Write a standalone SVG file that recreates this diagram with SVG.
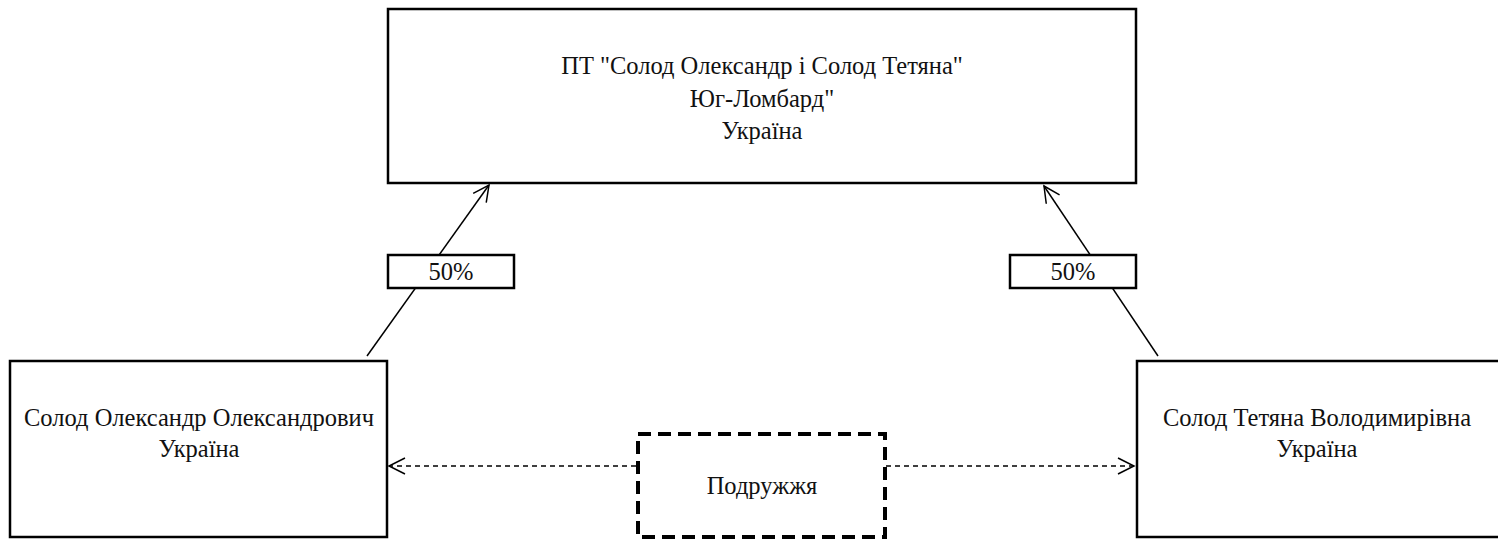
<svg xmlns="http://www.w3.org/2000/svg" width="1498" height="539" viewBox="0 0 1498 539">
<defs>
<style>
.box{fill:#fff;stroke:#000;stroke-width:2.5}
.dbox{fill:#fff;stroke:#000;stroke-width:4;stroke-dasharray:13 7}
.t{font-family:"Liberation Serif","Times New Roman",serif;font-size:24.5px;fill:#111;text-anchor:middle}
.ln{stroke:#000;stroke-width:1.5;fill:none}
.dl{stroke:#000;stroke-width:1.5;fill:none;stroke-dasharray:5 4}
</style>
<marker id="ah" viewBox="0 0 20 20" refX="18" refY="10" markerWidth="20" markerHeight="20" markerUnits="userSpaceOnUse" orient="auto">
<path d="M2,2 L18,10 L2,18" fill="none" stroke="#000" stroke-width="1.5"/>
</marker>
</defs>
<rect width="1498" height="539" fill="#fff"/>
<g id="connectors">
<line class="ln" x1="367" y1="356" x2="489" y2="185" marker-end="url(#ah)"/>
<line class="ln" x1="1158" y1="356" x2="1044" y2="186" marker-end="url(#ah)"/>
<line class="dl" x1="636" y1="466" x2="389" y2="466" marker-end="url(#ah)"/>
<line class="dl" x1="886" y1="466" x2="1134" y2="466" marker-end="url(#ah)"/>
</g>
<g id="company">
<rect class="box" x="388" y="9" width="748" height="174"/>
<text class="t" x="762" y="74">ПТ "Солод Олександр і Солод Тетяна"</text>
<text class="t" x="762" y="107">Юг-Ломбард"</text>
<text class="t" x="762" y="139">Україна</text>
</g>
<g id="label-left">
<rect class="box" x="388" y="255" width="126" height="33"/>
<text class="t" x="451" y="280">50%</text>
</g>
<g id="label-right">
<rect class="box" x="1010" y="255" width="126" height="33"/>
<text class="t" x="1073" y="280">50%</text>
</g>
<g id="person-left">
<rect class="box" x="10" y="361" width="377" height="176"/>
<text class="t" x="199" y="426">Солод Олександр Олександрович</text>
<text class="t" x="199" y="457">Україна</text>
</g>
<g id="person-right">
<rect class="box" x="1137" y="361" width="370" height="176"/>
<text class="t" x="1317" y="426">Солод Тетяна Володимирівна</text>
<text class="t" x="1317" y="457">Україна</text>
</g>
<g id="spouses">
<rect class="dbox" x="638" y="434" width="247" height="103"/>
<text class="t" x="762" y="494">Подружжя</text>
</g>
</svg>
